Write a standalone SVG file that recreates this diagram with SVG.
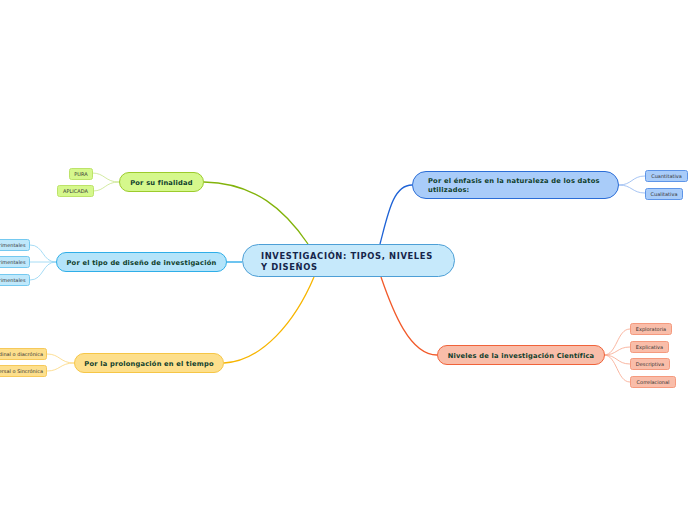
<svg xmlns="http://www.w3.org/2000/svg" width="696" height="520" viewBox="0 0 696 520">
<style>
text{font-family:"DejaVu Sans","Verdana",sans-serif}
.main{font-size:6.7px;font-weight:bold;fill:#10402c;letter-spacing:0.2px}
.center{font-size:8.4px;font-weight:bold;fill:#15254a;letter-spacing:0.62px}
.leaf{font-size:5px;fill:#333333}
.c{fill:none;stroke-width:1.3}
.cs{fill:none;stroke-width:0.8}
</style>
<rect width="696" height="520" fill="#ffffff"/>
<g id="connectors">
<path class="c" stroke="#82b30a" d="M204,182 C255,183 285,210 308,244"/>
<path class="c" stroke="#1ea5e8" d="M227,262 L242,262"/>
<path class="c" stroke="#f7b500" d="M224,363 C262,361 295,322 314,277"/>
<path class="c" stroke="#1f63d6" d="M380,244 C388,214 393,185 412,185"/>
<path class="c" stroke="#f25a2a" d="M381,277 C393,312 410,355 437,355"/>
<path class="cs" stroke="#c8e58a" d="M119,182 C105,182 105,173 92,173"/>
<path class="cs" stroke="#c8e58a" d="M119,182 C105,182 105,191 93,191"/>
<path class="cs" stroke="#8fd3f3" d="M56,262 C42,262 44,245 30,245"/>
<path class="cs" stroke="#8fd3f3" d="M56,262 L30,262"/>
<path class="cs" stroke="#8fd3f3" d="M56,262 C42,262 44,280 30,280"/>
<path class="cs" stroke="#fbd67a" d="M74,363 C60,363 60,354 47,354"/>
<path class="cs" stroke="#fbd67a" d="M74,363 C60,363 60,371 47,371"/>
<path class="cs" stroke="#8fb5f0" d="M619,185 C632,185 632,176 645,176"/>
<path class="cs" stroke="#8fb5f0" d="M619,185 C632,185 632,193 645,193"/>
<path class="cs" stroke="#f8a58a" d="M604,355 C617,355 617,329 630,329"/>
<path class="cs" stroke="#f8a58a" d="M604,355 C617,355 617,347 630,347"/>
<path class="cs" stroke="#f8a58a" d="M604,355 C617,355 617,364 630,364"/>
<path class="cs" stroke="#f8a58a" d="M604,355 C617,355 617,382 630,382"/>
</g>
<g id="center">
<rect x="242.5" y="244.5" width="212" height="32" rx="16" fill="#c6e9fb" stroke="#4d9fd6" stroke-width="1"/>
<text class="center" x="261" y="259">INVESTIGACIÓN: TIPOS, NIVELES</text>
<text class="center" x="261" y="269.5">Y DISEÑOS</text>
</g>
<g id="finalidad">
<rect x="119.5" y="172.5" width="84" height="19" rx="9.5" fill="#d5f88c" stroke="#9ccb2c"/>
<text class="main" x="161.5" y="184.5" text-anchor="middle">Por su finalidad</text>
</g>
<g id="pura">
<rect x="69.5" y="168.5" width="23" height="11" rx="2" fill="#d5f88c" stroke="#bde36a"/>
<text class="leaf" x="81" y="175.8" text-anchor="middle">PURA</text>
</g>
<g id="aplicada">
<rect x="57.5" y="185.5" width="36" height="11" rx="2" fill="#d5f88c" stroke="#bde36a"/>
<text class="leaf" x="75.5" y="192.8" text-anchor="middle">APLICADA</text>
</g>
<g id="diseno">
<rect x="56.5" y="252.5" width="170" height="19" rx="9.5" fill="#b4e4fa" stroke="#2faee8"/>
<text class="main" x="141.5" y="264.5" text-anchor="middle">Por el tipo de diseño de investigación</text>
</g>
<g id="experimentales">
<rect x="-20.5" y="239.5" width="50" height="11" rx="2" fill="#bfe8fb" stroke="#74c9f0"/>
<text class="leaf" x="25.5" y="246.8" text-anchor="end">Experimentales</text>
</g>
<g id="no-experimentales">
<rect x="-30.5" y="256.5" width="60" height="11" rx="2" fill="#bfe8fb" stroke="#74c9f0"/>
<text class="leaf" x="25.5" y="263.8" text-anchor="end">No experimentales</text>
</g>
<g id="cuasi-experimentales">
<rect x="-40.5" y="274.5" width="70" height="11" rx="2" fill="#bfe8fb" stroke="#74c9f0"/>
<text class="leaf" x="25.5" y="281.8" text-anchor="end">Cuasi experimentales</text>
</g>
<g id="prolongacion">
<rect x="74.5" y="353.5" width="149" height="19" rx="9.5" fill="#fddf8c" stroke="#f6c646"/>
<text class="main" x="149" y="365.5" text-anchor="middle">Por la prolongación en el tiempo</text>
</g>
<g id="longitudinal">
<rect x="-40.5" y="348.5" width="87" height="11" rx="2" fill="#fddf8c" stroke="#f6c95a"/>
<text class="leaf" x="43" y="355.8" text-anchor="end">Longitudinal o diacrónica</text>
</g>
<g id="transversal">
<rect x="-40.5" y="365.5" width="87" height="11" rx="2" fill="#fddf8c" stroke="#f6c95a"/>
<text class="leaf" x="43" y="372.8" text-anchor="end">Transversal o Sincrónica</text>
</g>
<g id="enfasis">
<rect x="412.5" y="171.5" width="206" height="27" rx="13.5" fill="#a9ccf9" stroke="#2b6dd6"/>
<text class="main" x="428" y="182.5">Por el énfasis en la naturaleza de los datos</text>
<text class="main" x="428" y="191.5">utilizados:</text>
</g>
<g id="cuantitativa">
<rect x="645.5" y="170.5" width="42" height="11" rx="2" fill="#a9ccf9" stroke="#5e95e8"/>
<text class="leaf" x="666.5" y="177.8" text-anchor="middle">Cuantitativa</text>
</g>
<g id="cualitativa">
<rect x="645.5" y="188.5" width="37" height="11" rx="2" fill="#a9ccf9" stroke="#5e95e8"/>
<text class="leaf" x="664" y="195.8" text-anchor="middle">Cualitativa</text>
</g>
<g id="niveles">
<rect x="437.5" y="345.5" width="167" height="19" rx="9.5" fill="#f9bda9" stroke="#f0633a"/>
<text class="main" x="521" y="357.5" text-anchor="middle">Niveles de la investigación Científica</text>
</g>
<g id="exploratoria">
<rect x="630.5" y="323.5" width="41" height="11" rx="2" fill="#f9bda9" stroke="#f59a7e"/>
<text class="leaf" x="651" y="330.8" text-anchor="middle">Exploratoria</text>
</g>
<g id="explicativa">
<rect x="630.5" y="341.5" width="38" height="11" rx="2" fill="#f9bda9" stroke="#f59a7e"/>
<text class="leaf" x="649.5" y="348.8" text-anchor="middle">Explicativa</text>
</g>
<g id="descriptiva">
<rect x="630.5" y="358.5" width="39" height="11" rx="2" fill="#f9bda9" stroke="#f59a7e"/>
<text class="leaf" x="650" y="365.8" text-anchor="middle">Descriptiva</text>
</g>
<g id="correlacional">
<rect x="630.5" y="376.5" width="45" height="11" rx="2" fill="#f9bda9" stroke="#f59a7e"/>
<text class="leaf" x="653" y="383.8" text-anchor="middle">Correlacional</text>
</g>
</svg>
